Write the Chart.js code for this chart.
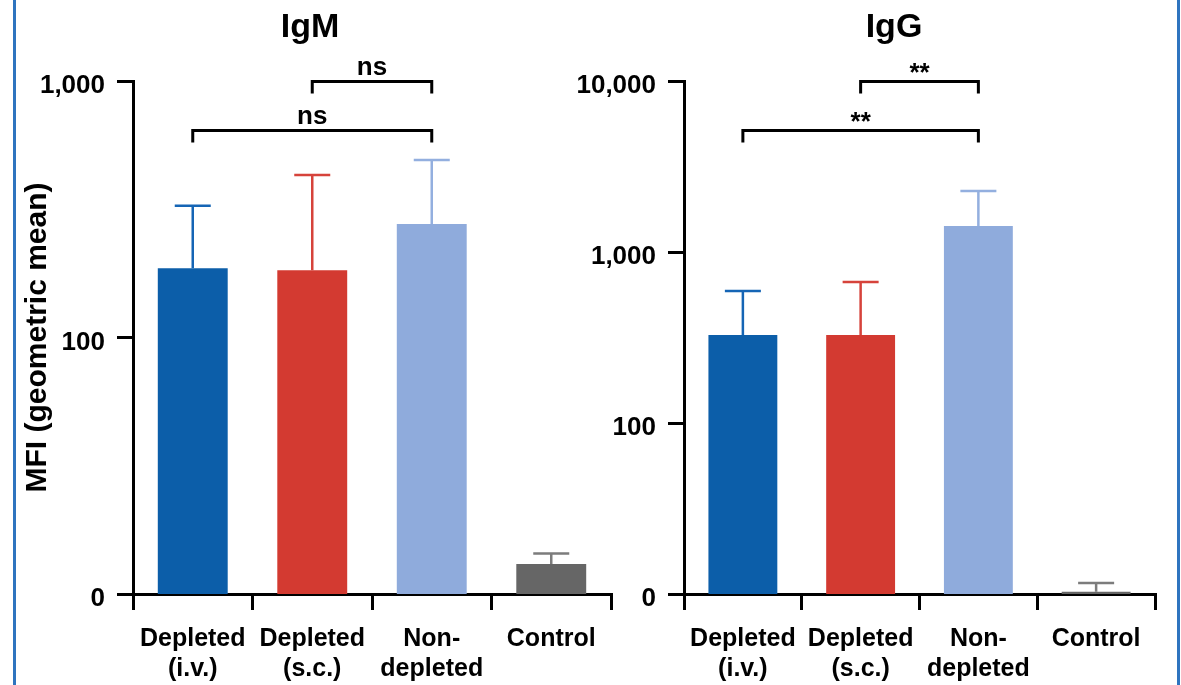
<!DOCTYPE html>
<html><head><meta charset="utf-8">
<script src="https://cdn.jsdelivr.net/npm/chart.js@4.4.1/dist/chart.umd.min.js"></script>
<style>
html,body{margin:0;padding:0;background:#fff;}
#wrap{position:relative;width:1181px;height:685px;overflow:hidden;background:#fff;}
#cA{position:absolute;left:0;top:0;}
#cB{position:absolute;left:560px;top:0;}
.frame{position:absolute;top:0;height:685px;width:3px;background:#2f74bf;}
</style></head><body>
<div id="wrap">
<div class="frame" style="left:13px"></div>
<div class="frame" style="left:1177px"></div>
<canvas id="cA" width="640" height="685"></canvas>
<canvas id="cB" width="621" height="685"></canvas>
</div>
<script>
// ---- data ----
const categories = [["Depleted","(i.v.)"],["Depleted","(s.c.)"],["Non-","depleted"],["Control"]];
const igmMeans   = [186, 183, 277, 13.1];
const igmErrHigh = [326, 430, 492, 14.4];
const iggMeans   = [327, 327, 1419, 10.3];
const iggErrHigh = [591, 668, 2274, 11.6];
const igmTicks = [10, 100, 1000];
const iggTicks = [10, 100, 1000, 10000];
const zeroTickValue = 10; // axis floor, labelled "0"
const igmBrackets = [{from:1,to:2,level:1000,label:'ns'},{from:0,to:2,level:645,label:'ns'}];
const iggBrackets = [{from:1,to:2,level:10000,label:'**'},{from:0,to:2,level:5200,label:'**'}];
const yAxisTitle = 'MFI (geometric mean)';

// ---- styles ----
const FONT = "'Liberation Sans', Arial, Helvetica, sans-serif";
const barColors = ['#0c5ea9','#d33a31','#8fabdc','#666666'];
const errColors = ['#1565b5','#d6433b','#93afdf','#7c7c7c'];

function errorBars(high){
  return {id:'errorBars', afterDatasetsDraw(chart){
    const ctx=chart.ctx, meta=chart.getDatasetMeta(0), y=chart.scales.y;
    ctx.save(); ctx.lineWidth=2.5; ctx.lineCap='butt';
    meta.data.forEach((bar,i)=>{
      const top=y.getPixelForValue(high[i]);
      ctx.strokeStyle=errColors[i];
      ctx.beginPath();
      ctx.moveTo(bar.x, bar.y); ctx.lineTo(bar.x, top);
      ctx.moveTo(bar.x-18, top); ctx.lineTo(bar.x+18, top);
      ctx.stroke();
    });
    ctx.restore();
  }};
}
function sigBrackets(items){
  return {id:'sigBrackets', afterDraw(chart){
    const ctx=chart.ctx, meta=chart.getDatasetMeta(0), y=chart.scales.y;
    ctx.save(); ctx.strokeStyle='#000'; ctx.fillStyle='#000'; ctx.lineWidth=3; ctx.lineJoin='miter';
    ctx.font='bold 26px '+FONT; ctx.textAlign='center'; ctx.textBaseline='alphabetic';
    items.forEach(b=>{
      const x1=meta.data[b.from].x, x2=meta.data[b.to].x, py=Math.round(y.getPixelForValue(b.level))+0.5;
      ctx.beginPath(); ctx.moveTo(x1,py+12); ctx.lineTo(x1,py); ctx.lineTo(x2,py); ctx.lineTo(x2,py+12); ctx.stroke();
      const off = b.label.indexOf('*')>=0 ? 1 : 7;
      ctx.fillText(b.label,(x1+x2)/2,py-off);
    });
    ctx.restore();
  }};
}
function panelTitle(text,x,y){
  return {id:'panelTitle', afterDraw(chart){
    const ctx=chart.ctx; ctx.save(); ctx.font='bold 34px '+FONT; ctx.fillStyle='#000';
    ctx.textAlign='center'; ctx.textBaseline='alphabetic'; ctx.fillText(text,x,y); ctx.restore();
  }};
}

function makeChart(canvas, title, means, errHigh, ticks, brackets, opt){
  return new Chart(canvas,{
    type:'bar',
    data:{labels:categories, datasets:[{data:means, backgroundColor:barColors, borderWidth:0, barPercentage:0.585, categoryPercentage:1}]},
    options:{
      responsive:false, animation:false, devicePixelRatio:1,
      layout:{padding:{left:0,top:81,right:opt.padRight,bottom:0}},
      plugins:{legend:{display:false}, tooltip:{enabled:false}, title:{display:false}},
      scales:{
        x:{type:'category', offset:true,
          grid:{offset:true, drawOnChartArea:false, drawTicks:true, tickLength:16, color:'#000', lineWidth:3},
          border:{display:true, color:'#000', width:3},
          ticks:{color:'#000', font:{family:FONT,size:25,weight:'bold',lineHeight:1.2}, padding:14, maxRotation:0, minRotation:0, autoSkip:false},
          afterFit:s=>{s.height=91;}},
        y:{type:'logarithmic', min:ticks[0], max:ticks[ticks.length-1],
          afterBuildTicks:s=>{s.ticks=ticks.map(v=>({value:v}));},
          grid:{drawOnChartArea:false, drawTicks:true, tickLength:16, color:'#000', lineWidth:3},
          border:{display:true, color:'#000', width:3},
          ticks:{color:'#000', font:{family:FONT,size:26,weight:'bold'}, padding:12, labelOffset:5, autoSkip:false,
            callback:v=> v===zeroTickValue ? '0' : Number(v).toLocaleString('en-US')},
          title: opt.yTitle ? {display:true, text:yAxisTitle, color:'#000', font:{family:FONT,size:30,weight:'bold'}, padding:{top:20,bottom:0}} : {display:false},
          afterFit:s=>{s.width=opt.axisWidth;}}
      }
    },
    plugins:[errorBars(errHigh), sigBrackets(brackets), panelTitle(title, opt.titleX, 37)]
  });
}

makeChart(document.getElementById('cA'),'IgM',igmMeans,igmErrHigh,igmTicks,igmBrackets,{padRight:29,axisWidth:133,yTitle:true,titleX:310});
makeChart(document.getElementById('cB'),'IgG',iggMeans,iggErrHigh,iggTicks,iggBrackets,{padRight:26,axisWidth:124,yTitle:false,titleX:334});
</script>
</body></html>
